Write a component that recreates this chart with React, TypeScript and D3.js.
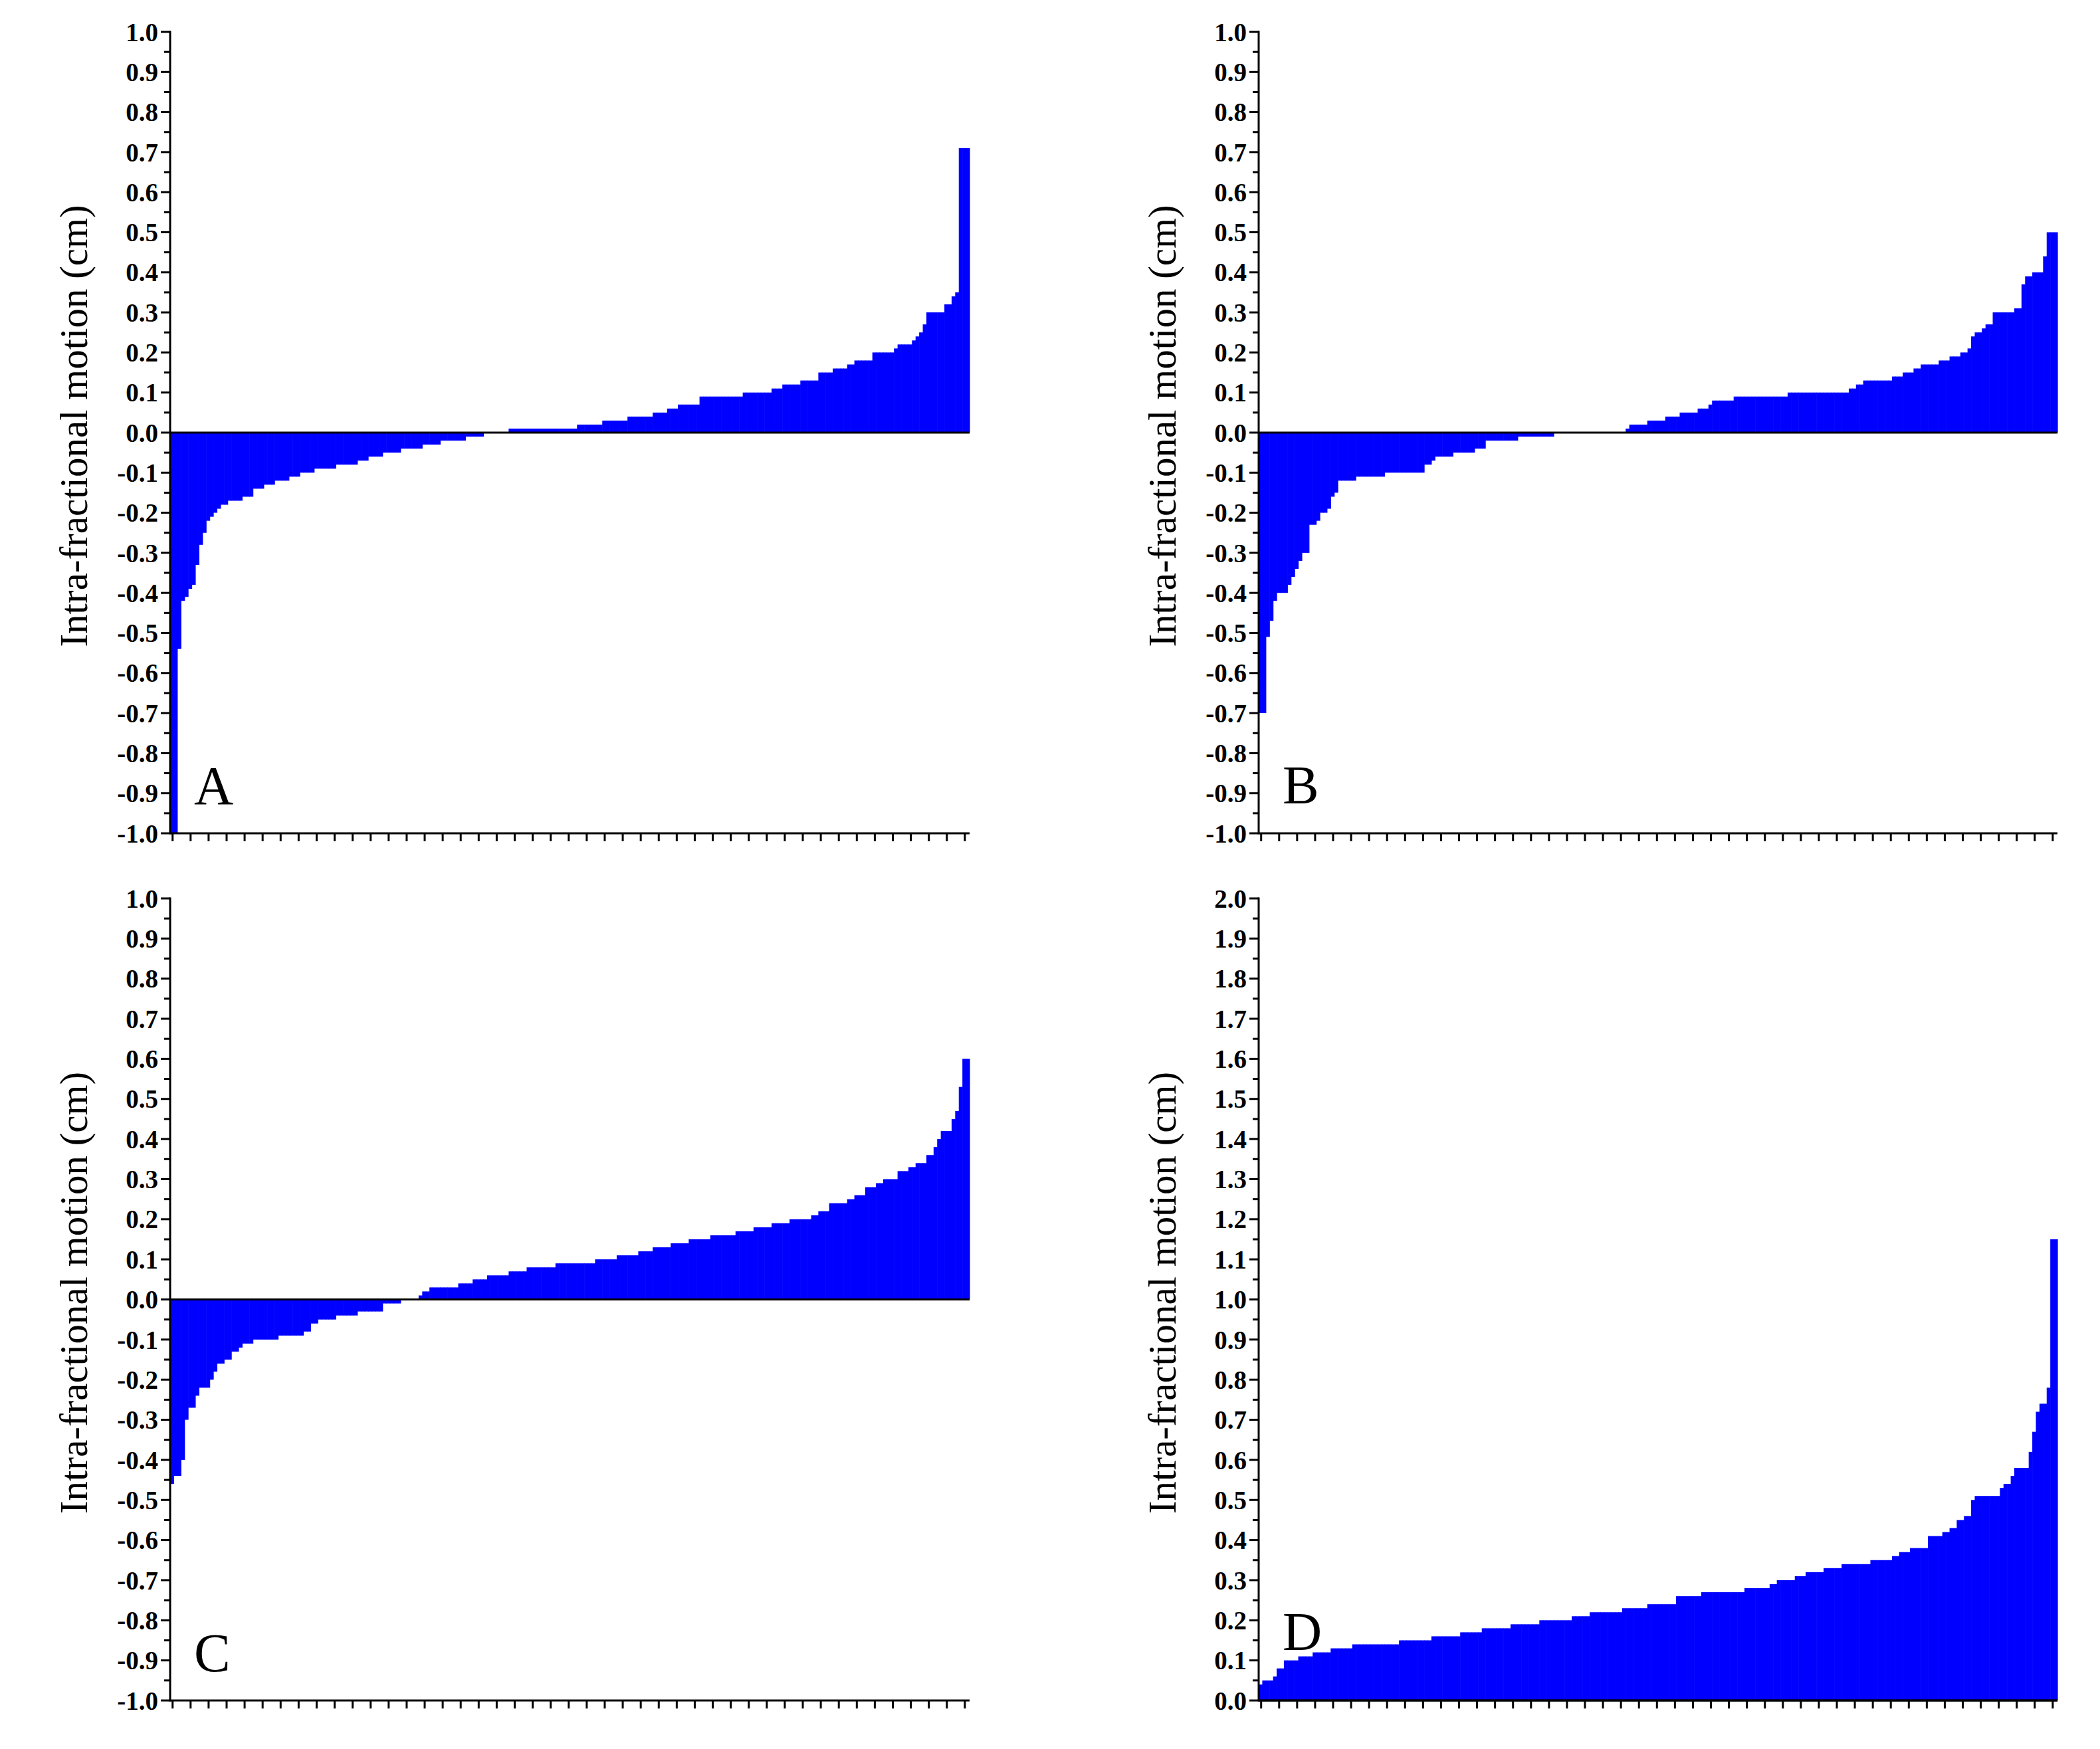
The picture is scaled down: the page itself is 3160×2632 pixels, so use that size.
import React from "react";
import * as d3 from "d3";

type Run = [number, number]; // [value (cm), number of consecutive fractions with that value]

// Panel A – sorted intra-fractional motion values
const runsA: Run[] = [
  [-1.0, 2], [-0.54, 1], [-0.42, 1], [-0.41, 1], [-0.39, 1], [-0.38, 1], [-0.33, 1], [-0.28, 1],
  [-0.25, 1], [-0.22, 1], [-0.21, 1], [-0.2, 1], [-0.19, 1], [-0.18, 2], [-0.17, 4], [-0.16, 3],
  [-0.14, 3], [-0.13, 3], [-0.12, 4], [-0.11, 3], [-0.1, 4], [-0.09, 6], [-0.08, 6], [-0.07, 3],
  [-0.06, 4], [-0.05, 5], [-0.04, 6], [-0.03, 5], [-0.02, 7], [-0.01, 5], [0, 7], [0.01, 19],
  [0.02, 7], [0.03, 7], [0.04, 7], [0.05, 4], [0.06, 3], [0.07, 6], [0.09, 12], [0.1, 8],
  [0.11, 3], [0.12, 5], [0.13, 5], [0.15, 4], [0.16, 4], [0.17, 2], [0.18, 5], [0.2, 6],
  [0.21, 1], [0.22, 4], [0.23, 1], [0.24, 1], [0.25, 1], [0.27, 1], [0.3, 5], [0.32, 2],
  [0.34, 1], [0.35, 1], [0.71, 3],
];

// Panel B
const runsB: Run[] = [
  [-0.7, 2], [-0.51, 1], [-0.47, 1], [-0.42, 1], [-0.4, 3], [-0.38, 1], [-0.36, 1], [-0.34, 1],
  [-0.32, 1], [-0.3, 2], [-0.23, 2], [-0.22, 1], [-0.2, 2], [-0.19, 1], [-0.16, 1], [-0.15, 1],
  [-0.12, 5], [-0.11, 8], [-0.1, 11], [-0.08, 2], [-0.07, 1], [-0.06, 5], [-0.05, 6], [-0.04, 3],
  [-0.02, 9], [-0.01, 10], [0, 20], [0.01, 1], [0.02, 5], [0.03, 5], [0.04, 4], [0.05, 5],
  [0.06, 3], [0.07, 1], [0.08, 6], [0.09, 15], [0.1, 17], [0.11, 2], [0.12, 2], [0.13, 8],
  [0.14, 3], [0.15, 3], [0.16, 2], [0.17, 5], [0.18, 3], [0.19, 3], [0.2, 2], [0.21, 1],
  [0.24, 1], [0.25, 2], [0.26, 1], [0.27, 2], [0.3, 6], [0.31, 2], [0.37, 1], [0.39, 2],
  [0.4, 3], [0.44, 1], [0.5, 3],
];

// Panel C
const runsC: Run[] = [
  [-0.46, 1], [-0.44, 2], [-0.4, 1], [-0.3, 1], [-0.27, 2], [-0.24, 1], [-0.22, 3], [-0.2, 1],
  [-0.18, 1], [-0.16, 2], [-0.15, 2], [-0.13, 2], [-0.12, 1], [-0.11, 3], [-0.1, 7], [-0.09, 7],
  [-0.08, 2], [-0.06, 2], [-0.05, 5], [-0.04, 6], [-0.03, 7], [-0.01, 5], [0, 5], [0.01, 1],
  [0.02, 2], [0.03, 8], [0.04, 4], [0.05, 4], [0.06, 6], [0.07, 5], [0.08, 8], [0.09, 11],
  [0.1, 6], [0.11, 6], [0.12, 4], [0.13, 5], [0.14, 5], [0.15, 6], [0.16, 7], [0.17, 5],
  [0.18, 5], [0.19, 5], [0.2, 6], [0.21, 2], [0.22, 3], [0.24, 5], [0.25, 2], [0.26, 3],
  [0.28, 3], [0.29, 2], [0.3, 4], [0.32, 3], [0.33, 2], [0.34, 3], [0.36, 2], [0.38, 1],
  [0.4, 1], [0.42, 3], [0.45, 1], [0.47, 1], [0.53, 1], [0.6, 2],
];

// Panel D
const runsD: Run[] = [
  [0.04, 1], [0.05, 3], [0.06, 1], [0.08, 2], [0.1, 4], [0.11, 4], [0.12, 5], [0.13, 6],
  [0.14, 13], [0.15, 9], [0.16, 8], [0.17, 6], [0.18, 8], [0.19, 8], [0.2, 9], [0.21, 5],
  [0.22, 9], [0.23, 7], [0.24, 8], [0.26, 7], [0.27, 12], [0.28, 7], [0.29, 2], [0.3, 5],
  [0.31, 3], [0.32, 5], [0.33, 5], [0.34, 8], [0.35, 6], [0.36, 2], [0.37, 3], [0.38, 5],
  [0.41, 4], [0.42, 2], [0.43, 2], [0.45, 2], [0.46, 2], [0.5, 1], [0.51, 7], [0.53, 1],
  [0.54, 2], [0.56, 1], [0.58, 4], [0.62, 1], [0.67, 1], [0.72, 1], [0.74, 2], [0.78, 1],
  [1.15, 2],
];

const panelLetters = ["A", "B", "C", "D"];
const yDomains: [number, number][] = [[-1, 1], [-1, 1], [-1, 1], [0, 2]];
const axisTitle = "Intra-fractional motion (cm)";
const xTickEvery = 5;
const majorStep = 0.1;

function expand(runs: Run[]): number[] {
  const out: number[] = [];
  runs.forEach(([v, c]) => {
    for (let i = 0; i < c; i++) out.push(v);
  });
  return out;
}

const allSeries = [runsA, runsB, runsC, runsD].map(expand);

// Layout (pixels)
const frames = [
  { left: 256, right: 1459, top: 48, bottom: 1254, letterY: 1210 },
  { left: 1894, right: 3096, top: 48, bottom: 1254, letterY: 1209 },
  { left: 256, right: 1459, top: 1352, bottom: 2559, letterY: 2515 },
  { left: 1894, right: 3096, top: 1352, bottom: 2559, letterY: 2483 },
];

const BLUE = "#0000ff";
const SERIF = "'Liberation Serif', 'Times New Roman', Times, serif";

function fmt(v: number): string {
  const r = Math.round(v * 10) / 10;
  if (Math.abs(r) < 1e-9) return "0.0";
  return (r < 0 ? "-" : "") + Math.abs(r).toFixed(1);
}

function Panel({ idx }: { idx: number }) {
  const f = frames[idx];
  const data = allSeries[idx];
  const dom = yDomains[idx];
  const x = d3
    .scaleBand<number>()
    .domain(d3.range(data.length))
    .range([f.left, f.right])
    .paddingInner(0)
    .paddingOuter(0);
  const y = d3.scaleLinear().domain(dom).range([f.bottom, f.top]);
  const bw = x.bandwidth();
  const nMajor = Math.round((dom[1] - dom[0]) / majorStep);
  const majors = d3.range(nMajor + 1).map((k) => dom[0] + k * majorStep);
  const minors = d3.range(nMajor).map((k) => dom[0] + (k + 0.5) * majorStep);
  const xTicks = d3.range(0, data.length, xTickEvery);
  const y0 = y(0);

  return (
    <g>
      {data.map((v, i) => {
        const yv = y(v);
        return (
          <rect
            key={i}
            x={x(i)!}
            y={Math.min(yv, y0)}
            width={bw + 0.6}
            height={Math.abs(yv - y0)}
            fill={BLUE}
          />
        );
      })}
      {/* zero line */}
      <line x1={f.left} x2={f.right} y1={y0} y2={y0} stroke="#000" strokeWidth={3} />
      {/* bottom axis */}
      <line x1={f.left} x2={f.right} y1={f.bottom} y2={f.bottom} stroke="#000" strokeWidth={3} />
      {xTicks.map((i) => {
        const cx = x(i)! + bw / 2 + 1;
        return (
          <line key={"xt" + i} x1={cx} x2={cx} y1={f.bottom} y2={f.bottom + 12} stroke="#000" strokeWidth={3} />
        );
      })}
      {/* y axis */}
      <line x1={f.left} x2={f.left} y1={f.top - 1.5} y2={f.bottom + 1.5} stroke="#000" strokeWidth={3} />
      {majors.map((v) => (
        <line key={"mj" + v} x1={f.left - 14} x2={f.left} y1={y(v)} y2={y(v)} stroke="#000" strokeWidth={3} />
      ))}
      {minors.map((v) => (
        <line key={"mn" + v} x1={f.left - 9} x2={f.left} y1={y(v)} y2={y(v)} stroke="#000" strokeWidth={3} />
      ))}
      {majors.map((v) => (
        <text
          key={"lb" + v}
          x={f.left - 18}
          y={y(v)}
          dy="0.35em"
          textAnchor="end"
          fontFamily={SERIF}
          fontWeight="bold"
          fontSize={39}
          fill="#000"
        >
          {fmt(v)}
        </text>
      ))}
      <text
        transform={`translate(${f.left - 125},${(f.top + f.bottom) / 2 - 10}) rotate(-90)`}
        textAnchor="middle"
        fontFamily={SERIF}
        fontSize={59}
        fill="#000"
      >
        {axisTitle}
      </text>
      <text x={f.left + 36} y={f.letterY} fontFamily={SERIF} fontSize={82} fill="#000">
        {panelLetters[idx]}
      </text>
    </g>
  );
}

export default function App() {
  return (
    <svg
      width={3160}
      height={2632}
      viewBox="0 0 3160 2632"
      style={{ position: "absolute", left: 0, top: 0, display: "block" }}
    >
      <rect x={0} y={0} width={3160} height={2632} fill="#fff" />
      {frames.map((_, i) => (
        <Panel key={i} idx={i} />
      ))}
    </svg>
  );
}
